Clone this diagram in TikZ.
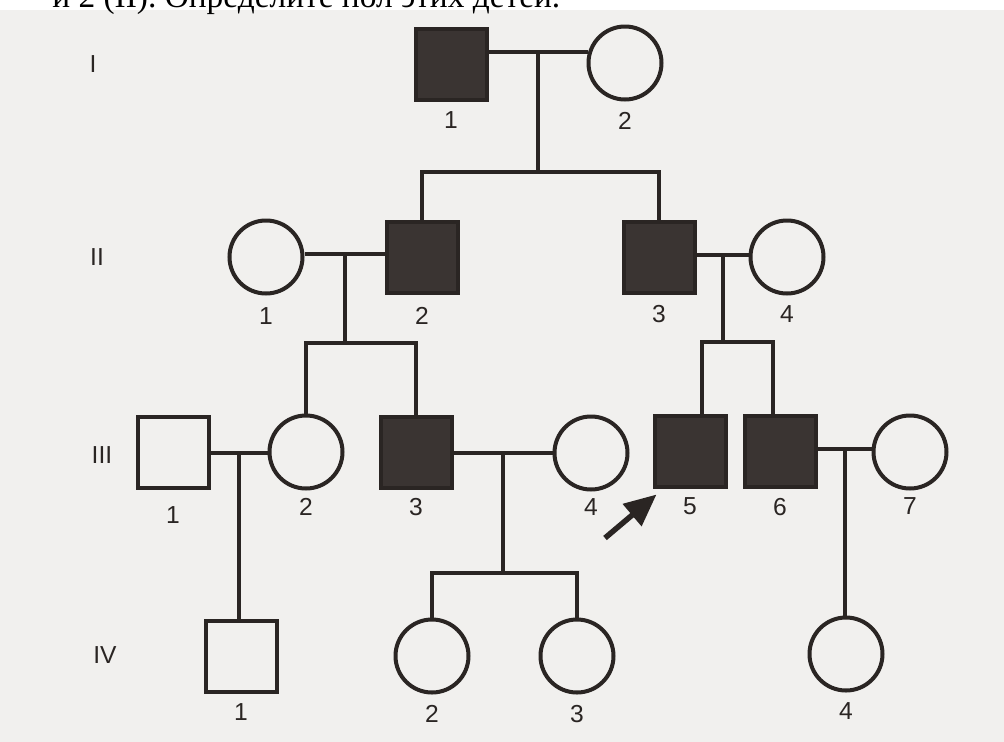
\documentclass[tikz,border=0pt]{standalone}
\usepackage{fontspec}
\setmainfont{Liberation Serif}
\setsansfont{Liberation Sans}
\usetikzlibrary{arrows.meta,calc}
\definecolor{ink}{RGB}{42,37,35}
\definecolor{sick}{RGB}{58,52,50}
\definecolor{paper}{RGB}{241,240,238}
\tikzset{
	>=latex,
	line/.style={draw=ink, line width=0.08cm},
	male/.style={rectangle, draw=ink, line width=0.08cm, minimum size=1.42cm, inner sep=0pt},
	female/.style={circle, draw=ink, line width=0.08cm, minimum size=1.46cm, inner sep=0pt},
	ill/.style={fill=sick},
	num/.style={font=\sffamily\fontsize{14}{16}\selectfont, text=ink, inner sep=0pt, label distance=0.2cm},
	gen/.style={font=\sffamily\fontsize{14}{16}\selectfont, text=ink, inner sep=0pt}
}

\begin{document}
\begin{tikzpicture}[x=0.2mm,y=-0.2mm]
	% page
	\useasboundingbox (0,0) rectangle (1004,741);
	\clip (0,0) rectangle (1004,741);
	\fill[paper] (-5,-5) rectangle (1010,750);
	\fill[white] (-5,-5) rectangle (1010,10);
	
	% last line of the question above
	\node[anchor=base west, inner sep=0pt, font=\fontsize{19}{22}\selectfont, text=black]
		(task) at (52,7) {и 2 (II). Определите пол этих детей.};
	
	% generation numbers
	\foreach \g/\x/\y in {I/93/64, II/97/257, III/102/455, IV/105/655}
		\node[gen] (gen\g) at (\x,\y) {\g};
	
	% generation I
	\node[male,ill] (I1) at (451,64) [label={[num]below:1}] {};
	\node[female] (I2) at (625,63) [label={[num]below:2}] {};
	
	% generation II
	\node[female] (II1) at (266,257) [label={[num,label distance=0.24cm]below:1}] {};
	\node[male,ill] (II2) at (422,257) [label={[num,label distance=0.24cm]below:2}] {};
	\node[male,ill] (II3) at (659,257) [label={[num,label distance=0.2cm]below:3}] {};
	\node[female] (II4) at (787,257) [label={[num,label distance=0.2cm]below:4}] {};
	
	% generation III
	\node[male] (III1) at (173,452) [label={[num,label distance=0.34cm]below:1}] {};
	\node[female] (III2) at (306,452) [label={[num,label distance=0.14cm]below:2}] {};
	\node[male,ill] (III3) at (416,452) [label={[num,label distance=0.16cm]below:3}] {};
	\node[female] (III4) at (591,453) [label={[num,label distance=0.14cm]below:4}] {};
	\node[male,ill] (III5) at (690,451) [label={[num,label distance=0.18cm]below:5}] {};
	\node[male,ill] (III6) at (780,451) [label={[num,label distance=0.18cm]below:6}] {};
	\node[female] (III7) at (910,452) [label={[num,label distance=0.14cm]below:7}] {};
	
	% generation IV
	\node[male] (IV1) at (241,656) [label={[num]below:1}] {};
	\node[female] (IV2) at (432,656) [label={[num]below:2}] {};
	\node[female] (IV3) at (577,656) [label={[num]below:3}] {};
	\node[female] (IV4) at (846,654) [label={[num]below:4}] {};
	
	% marriages and offspring: I
	\draw[line] (I1.east |- I2.163) -- (I2.163);
	\coordinate (m1) at ($(I1.east |- I2.163)!0.5!(I2.163)$);
	\coordinate (s1) at (m1 |- 0,172);
	\draw[line] (m1) -- (s1);
	\draw[line] (II2.north) |- (s1) -| (II3.north);
	
	% II-1 x II-2
	\draw[line] (II1.east |- 0,254) -- (II2.west |- 0,254);
	\coordinate (m2) at ($(II1.east |- 0,254)!0.5!(II2.west |- 0,254)$);
	\coordinate (s2) at (m2 |- 0,343);
	\draw[line] (m2) -- (s2);
	\draw[line] (III2.north) |- (s2) -| (III3.north);
	
	% II-3 x II-4
	\draw[line] (II3.east |- 0,255) -- (II4.west |- 0,255);
	\coordinate (m3) at ($(II3.east |- 0,255)!0.5!(II4.west |- 0,255)$);
	\coordinate (s3) at (m3 |- 0,342);
	\draw[line] (m3) -- (s3);
	\draw[line] ([xshift=0.24cm]III5.north) |- (s3) -| ([xshift=-0.14cm]III6.north);
	
	% III-1 x III-2
	\draw[line] (III1.east |- 0,453) -- (III2.west |- 0,453);
	\coordinate (m4) at ($(III1.east |- 0,453)!0.5!(III2.west |- 0,453)$);
	\draw[line] (m4) -- (m4 |- IV1.north);
	
	% III-3 x III-4
	\draw[line] (III3.east |- 0,453) -- (III4.west |- 0,453);
	\coordinate (m5) at ($(III3.east |- 0,453)!0.5!(III4.west |- 0,453)$);
	\coordinate (s5) at (m5 |- 0,573);
	\draw[line] (m5) -- (s5);
	\draw[line] (IV2.north) |- (s5) -| (IV3.north);
	
	% III-6 x III-7
	\draw[line] (III6.east |- 0,449) -- (III7.west |- 0,449);
	\coordinate (m6) at ($(III6.east |- 0,449)!0.5!(III7.west |- 0,449)$);
	\draw[line] (m6) -- (m6 |- IV4.north);
	
	% proband
	\coordinate (tail) at (605,538);
	\coordinate (tip) at ([shift={(4,6)}]III5.south west);
	\draw[draw=ink, line width=0.11cm, -{Triangle[length=0.64cm,width=0.56cm]}] (tail) -- (tip);
\end{tikzpicture}
\end{document}
